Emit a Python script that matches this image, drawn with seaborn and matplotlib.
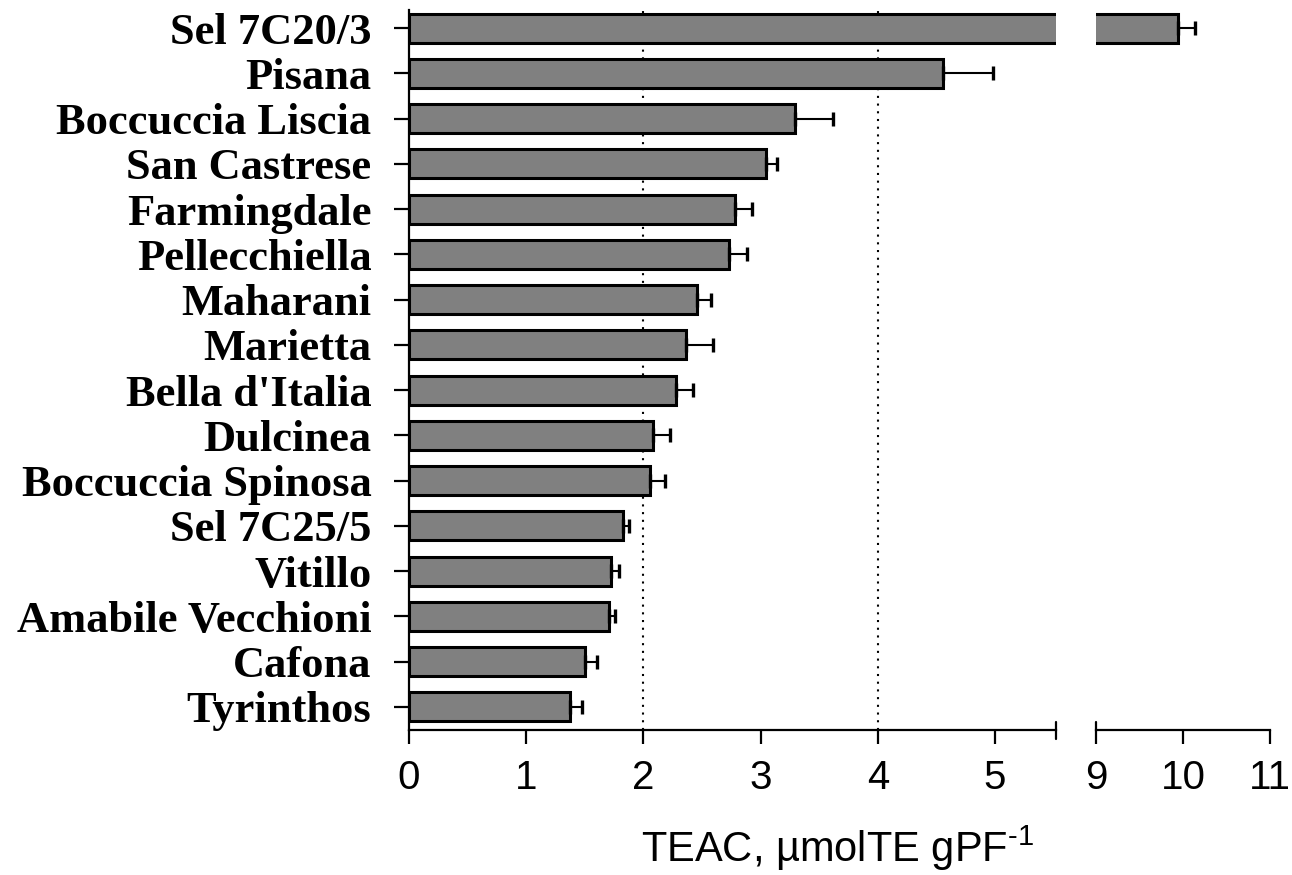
import matplotlib
matplotlib.use('Agg')
import matplotlib.pyplot as plt
import seaborn as sns
import pandas as pd
import numpy as np

cultivars = ["Sel 7C20/3", "Pisana", "Boccuccia Liscia", "San Castrese", "Farmingdale",
             "Pellecchiella", "Maharani", "Marietta", "Bella d'Italia", "Dulcinea",
             "Boccuccia Spinosa", "Sel 7C25/5", "Vitillo", "Amabile Vecchioni",
             "Cafona", "Tyrinthos"]
teac = [9.94, 4.56, 3.29, 3.05, 2.78, 2.73, 2.46, 2.36, 2.28, 2.08,
        2.06, 1.83, 1.72, 1.71, 1.50, 1.37]
sd = [0.20, 0.42, 0.33, 0.09, 0.15, 0.15, 0.12, 0.23, 0.14, 0.15,
      0.12, 0.05, 0.07, 0.05, 0.10, 0.11]
left_ticks = [0, 1, 2, 3, 4, 5]
right_ticks = [9, 10, 11]

sns.set_theme(style='ticks')
plt.rcParams['font.family'] = ['Liberation Sans', 'DejaVu Sans']
plt.rcParams['mathtext.fontset'] = 'custom'
plt.rcParams['mathtext.rm'] = 'Liberation Sans'
plt.rcParams['mathtext.it'] = 'Liberation Sans:italic'

df = pd.DataFrame({'cultivar': cultivars, 'teac': teac, 'sd': sd})
n = len(df)

W, H = 1292, 875
fig = plt.figure(figsize=(W / 100, H / 100), dpi=100)
fig.patch.set_facecolor('white')
bottom, top = 145 / H, 720 / H
ax1 = fig.add_axes([409 / W, bottom, (1056 - 409) / W, top])
ax2 = fig.add_axes([1096 / W, bottom, (1270 - 1096) / W, top])

for ax in (ax1, ax2):
    sns.barplot(data=df, x='teac', y='cultivar', orient='h', color='#808080',
                saturation=1, edgecolor='black', linewidth=2.2, width=0.64,
                errorbar=None, ax=ax, zorder=2)
    ax.errorbar(df['teac'], np.arange(n), xerr=[np.zeros(n), df['sd']],
                fmt='none', ecolor='black', elinewidth=1.5, capsize=4.8,
                capthick=2.4, zorder=3)
    ax.set_ylim(n - 0.49, -0.40)
    ax.set_xlabel('')
    ax.set_ylabel('')
    ax.set_facecolor('white')
    for s in ('top', 'right'):
        ax.spines[s].set_visible(False)
    ax.spines['bottom'].set_linewidth(1.6)
    ax.spines['bottom'].set_color('black')
    ax.tick_params(axis='x', direction='out', length=10, width=1.6,
                   colors='black', labelsize=29, pad=11)

ax1.set_xlim(0, 5.52)
ax1.set_xticks(left_ticks)
ax2.set_xlim(9, 11)
ax2.set_xticks(right_ticks)

ax1.spines['left'].set_linewidth(1.6)
ax1.spines['left'].set_color('black')
ax1.tick_params(axis='y', direction='out', length=11, width=1.6,
                colors='black', pad=16)
for lab in ax1.get_yticklabels():
    lab.set_fontfamily(['Liberation Serif', 'DejaVu Serif'])
    lab.set_fontweight('bold')
    lab.set_fontsize(32)

ax2.spines['left'].set_visible(False)
ax2.set_yticks([])

# dotted reference lines
for xv in (2, 4):
    ax1.axvline(xv, color='black', lw=1.5, ls=(0, (1, 2.7)), zorder=0)

# axis break marks
ax1.plot([1, 1], [-0.012, 0.011], transform=ax1.transAxes, color='black',
         lw=1.6, clip_on=False)
ax2.plot([0, 0], [0, 0.011], transform=ax2.transAxes, color='black',
         lw=1.6, clip_on=False)

fig.text(838 / W, 1 - 862 / H, r'TEAC, µmolTE gPF$^{\text{-1}}$', ha='center',
         va='baseline', fontsize=30, color='black')

fig.savefig('out.png', dpi=100, facecolor='white')
